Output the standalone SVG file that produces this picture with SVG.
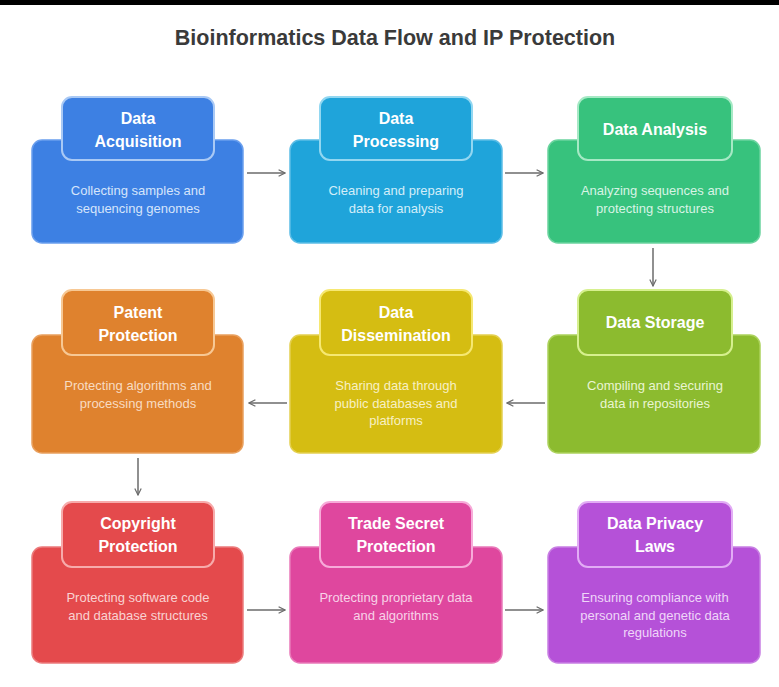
<svg xmlns="http://www.w3.org/2000/svg" width="779" height="687" viewBox="0 0 779 687">
<style>
.title{font-family:"Liberation Sans",Arial,sans-serif;font-weight:bold;font-size:21.5px;fill:#3a3a3a}
.h{font-family:"Liberation Sans",Arial,sans-serif;font-weight:bold;font-size:16px;fill:#ffffff;text-anchor:middle}
.b{font-family:"Liberation Sans",Arial,sans-serif;font-size:13px;text-anchor:middle}
.main{stroke-width:1.5}
.hdr{stroke-width:2}
.conn{fill:none;stroke:#6b6b6b;stroke-width:1.5;marker-end:url(#ah)}
</style>
<defs>
<marker id="ah" viewBox="0 0 10 10" refX="9" refY="5" markerWidth="8" markerHeight="8" markerUnits="userSpaceOnUse" orient="auto">
<path d="M1,1 L9,5 L1,9" fill="none" stroke="#6b6b6b" stroke-width="1.5"/>
</marker>
</defs>
<rect x="0" y="0" width="779" height="687" fill="#ffffff"/>
<rect x="0" y="0" width="779" height="5" fill="#000000"/>
<text class="title" x="395" y="45" text-anchor="middle">Bioinformatics Data Flow and IP Protection</text>

<g id="connectors">
<path class="conn" d="M247,173 H285"/>
<path class="conn" d="M505,173 H543"/>
<path class="conn" d="M653,248 V286"/>
<path class="conn" d="M545,403 H507"/>
<path class="conn" d="M287,403 H249"/>
<path class="conn" d="M138,458 V495"/>
<path class="conn" d="M247,610 H285"/>
<path class="conn" d="M505,610 H543"/>
</g>

<g id="data-acquisition">
<rect class="main" x="32" y="140" width="211" height="103" rx="10" fill="#3d80e3" stroke="#6a9fee"/>
<rect class="hdr" x="62" y="97" width="152" height="63" rx="10" fill="#3d80e3" stroke="#a9c9f5"/>
<text class="h" x="138" y="124">Data</text>
<text class="h" x="138" y="147">Acquisition</text>
<text class="b" x="138" y="195" fill="#d6e5fb">Collecting samples and</text>
<text class="b" x="138" y="213" fill="#d6e5fb">sequencing genomes</text>
</g>

<g id="data-processing">
<rect class="main" x="290" y="140" width="212" height="103" rx="10" fill="#1fa4da" stroke="#5cbde6"/>
<rect class="hdr" x="320" y="97" width="152" height="63" rx="10" fill="#1fa4da" stroke="#92d7f1"/>
<text class="h" x="396" y="124">Data</text>
<text class="h" x="396" y="147">Processing</text>
<text class="b" x="396" y="195" fill="#d3eef9">Cleaning and preparing</text>
<text class="b" x="396" y="213" fill="#d3eef9">data for analysis</text>
</g>

<g id="data-analysis">
<rect class="main" x="548" y="140" width="212" height="103" rx="10" fill="#37c27d" stroke="#6bd49f"/>
<rect class="hdr" x="578" y="97" width="154" height="63" rx="10" fill="#37c27d" stroke="#a6e9c5"/>
<text class="h" x="655" y="135">Data Analysis</text>
<text class="b" x="655" y="195" fill="#d8f4e5">Analyzing sequences and</text>
<text class="b" x="655" y="213" fill="#d8f4e5">protecting structures</text>
</g>

<g id="data-storage">
<rect class="main" x="548" y="335" width="212" height="118" rx="10" fill="#8cbb2f" stroke="#acd25c"/>
<rect class="hdr" x="578" y="290" width="154" height="65" rx="10" fill="#8cbb2f" stroke="#d6f08e"/>
<text class="h" x="655" y="328">Data Storage</text>
<text class="b" x="655" y="390" fill="#eaf5d2">Compiling and securing</text>
<text class="b" x="655" y="408" fill="#eaf5d2">data in repositories</text>
</g>

<g id="data-dissemination">
<rect class="main" x="290" y="335" width="212" height="118" rx="10" fill="#d5bd12" stroke="#e4d050"/>
<rect class="hdr" x="320" y="290" width="152" height="65" rx="10" fill="#d5bd12" stroke="#f6e872"/>
<text class="h" x="396" y="318">Data</text>
<text class="h" x="396" y="341">Dissemination</text>
<text class="b" x="396" y="390" fill="#f8f0c4">Sharing data through</text>
<text class="b" x="396" y="408" fill="#f8f0c4">public databases and</text>
<text class="b" x="396" y="425" fill="#f8f0c4">platforms</text>
</g>

<g id="patent-protection">
<rect class="main" x="32" y="335" width="211" height="118" rx="10" fill="#df822e" stroke="#e9a05e"/>
<rect class="hdr" x="62" y="290" width="152" height="65" rx="10" fill="#df822e" stroke="#f7c894"/>
<text class="h" x="138" y="318">Patent</text>
<text class="h" x="138" y="341">Protection</text>
<text class="b" x="138" y="390" fill="#f8dcc2">Protecting algorithms and</text>
<text class="b" x="138" y="408" fill="#f8dcc2">processing methods</text>
</g>

<g id="copyright-protection">
<rect class="main" x="32" y="547" width="211" height="116" rx="10" fill="#e44a4c" stroke="#ec7b7c"/>
<rect class="hdr" x="62" y="502" width="152" height="65" rx="10" fill="#e44a4c" stroke="#f7abab"/>
<text class="h" x="138" y="529">Copyright</text>
<text class="h" x="138" y="552">Protection</text>
<text class="b" x="138" y="602" fill="#f9d2d2">Protecting software code</text>
<text class="b" x="138" y="620" fill="#f9d2d2">and database structures</text>
</g>

<g id="trade-secret-protection">
<rect class="main" x="290" y="547" width="212" height="116" rx="10" fill="#df479e" stroke="#e979b9"/>
<rect class="hdr" x="320" y="502" width="152" height="65" rx="10" fill="#df479e" stroke="#f7abd9"/>
<text class="h" x="396" y="529">Trade Secret</text>
<text class="h" x="396" y="552">Protection</text>
<text class="b" x="396" y="602" fill="#f8d2e8">Protecting proprietary data</text>
<text class="b" x="396" y="620" fill="#f8d2e8">and algorithms</text>
</g>

<g id="data-privacy-laws">
<rect class="main" x="548" y="547" width="212" height="116" rx="10" fill="#b551d8" stroke="#c87fe3"/>
<rect class="hdr" x="578" y="502" width="154" height="65" rx="10" fill="#b551d8" stroke="#e2acf5"/>
<text class="h" x="655" y="529">Data Privacy</text>
<text class="h" x="655" y="552">Laws</text>
<text class="b" x="655" y="602" fill="#efd6f8">Ensuring compliance with</text>
<text class="b" x="655" y="620" fill="#efd6f8">personal and genetic data</text>
<text class="b" x="655" y="637" fill="#efd6f8">regulations</text>
</g>
</svg>
